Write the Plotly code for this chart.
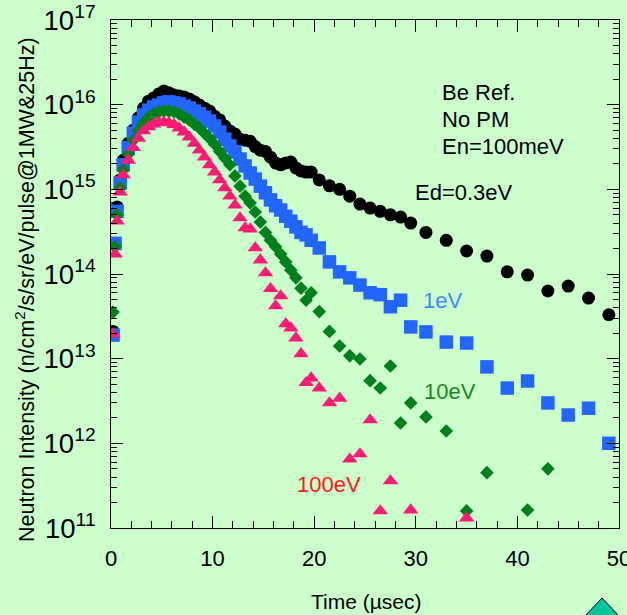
import plotly.graph_objects as go

# time (usec)
time_us = [0.2, 0.4, 0.6, 0.9, 1.2, 1.7, 2.2, 2.7, 3.2, 3.7, 4.2, 4.7, 5.2, 5.7, 6.2, 6.7,
           7.2, 7.7, 8.2, 8.7, 9.2, 9.7, 10.2, 10.7, 11.2, 11.7, 12.2, 12.7, 13.2, 13.7,
           14.2, 14.7, 15.2, 15.7, 16.2, 16.7, 17.2, 17.7, 18.2, 18.7, 19.2, 19.7,
           20.5, 21.5, 22.5, 23.5, 24.5, 25.5, 26.5, 27.5, 28.5, 29.5,
           31, 33, 35, 37, 39, 41, 43, 45, 47, 49]

ed_03eV = [2.1e13, 2.3e14, 6.2e14, 1.29e15, 2.2e15, 3.5e15, 5.0e15, 7.0e15, 9.1e15, 1.1e16,
           1.2e16, 1.34e16, 1.45e16, 1.38e16, 1.3e16, 1.27e16, 1.23e16, 1.17e16, 1.08e16, 9.9e15,
           9.1e15, 8.4e15, 7.3e15, 6.6e15, 5.6e15, 4.9e15, 4.5e15, 3.9e15, 3.8e15, 3.7e15,
           3.2e15, 2.9e15, 2.8e15, 2.4e15, 2.05e15, 1.95e15, 2.05e15, 2.1e15, 1.79e15, 1.65e15,
           1.6e15, 1.6e15,
           1.29e15, 1.1e15, 1.0e15, 8.3e14, 6.7e14, 6.0e14, 5.5e14, 5.0e14, 4.7e14, 4.0e14,
           3.1e14, 2.5e14, 1.87e14, 1.63e14, 1.06e14, 9.7e13, 6.3e13, 7.2e13, 5.2e13, 3.3e13]

ed_1eV = [1.9e13, 2.3e14, 5.5e14, 1.19e15, 1.95e15, 3.1e15, 4.6e15, 6.2e15, 7.55e15, 8.6e15,
          9.4e15, 9.9e15, 1.05e16, 1.08e16, 1.05e16, 1.02e16, 9.6e15, 9.1e15, 8.4e15, 7.8e15,
          7.1e15, 6.4e15, 5.6e15, 4.75e15, 3.9e15, 3.25e15, 2.76e15, 2.28e15, 1.89e15, 1.56e15,
          1.32e15, 1.09e15, 9.1e14, 7.5e14, 6.4e14, 5.7e14, 4.8e14, 4.2e14, 3.6e14, 3.1e14,
          2.9e14, 2.5e14,
          2.03e14, 1.39e14, 1.06e14, 9.0e13, 7.4e13, 6.0e13, 5.7e13, 4.1e13, 4.9e13, 2.37e13,
          2.07e13, 1.57e13, 1.53e13, 8.0e12, 4.5e12, 5.45e12, 3.0e12, 2.16e12, 2.6e12, 1.0e12]

ed_10eV = [3.55e13, 2.1e14, 5.0e14, 1.04e15, 1.69e15, 2.6e15, 3.8e15, 5.0e15, 6.1e15, 7.1e15,
           7.8e15, 8.2e15, 8.4e15, 8.4e15, 8.2e15, 7.8e15, 7.1e15, 6.6e15, 5.9e15, 5.3e15,
           4.6e15, 4.0e15, 3.4e15, 2.8e15, 2.34e15, 1.95e15, 1.44e15, 1.09e15, 8.3e14, 6.9e14,
           5.4e14, 4.1e14, 3.1e14, 2.5e14, 2.1e14, 1.72e14, 1.39e14, 1.11e14, 9.0e13, 6.8e13,
           4.9e13, 6.0e13,
           3.6e13, 2.1e13, 1.41e13, 1.08e13, 9.9e12, 5.5e12, 4.5e12, 8.2e12, 1.74e12, 3.0e12,
           2.05e12, 1.4e12, 1.59e11, 4.5e11, None, 1.63e11, 5.0e11, None, None, None]

ed_100eV = [1.95e13, 1.72e14, 4.2e14, 9.3e14, 1.48e15, 2.2e15, 3.1e15, 4.0e15, 4.9e15, 5.45e15,
            5.9e15, 6.2e15, 6.2e15, 6.1e15, 5.8e15, 5.3e15, 4.75e15, 4.15e15, 3.5e15, 2.9e15,
            2.4e15, 1.95e15, 1.6e15, 1.29e15, 1.04e15, 8.3e14, 6.5e14, 4.6e14, 3.5e14, 3.4e14,
            2.03e14, 1.46e14, 1.03e14, 6.7e13, 4.2e13, 5.5e13, 2.57e13, 2.3e13, 1.75e13, 1.14e13,
            5.2e12, 5.9e12,
            4.5e12, 3.0e12, 3.4e12, 6.5e11, 7.5e11, 1.89e12, 1.59e11, 3.6e11, None, 1.63e11,
            None, None, 1.31e11, None, None, None, None, None, None, None]

x_ticks = [0, 10, 20, 30, 40, 50]

FONT = "Liberation Sans, Arial, Helvetica, sans-serif"
BG = "#CCFFCC"

series = [
    (ed_03eV, "Ed=0.3eV", "circle", 13, "#000000"),
    (ed_1eV, "1eV", "square", 13.5, "#2266FF"),
    (ed_10eV, "10eV", "diamond", 10.5, "#00801A"),
    (ed_100eV, "100eV", "triangle-up", 13.5, "#FF1A75"),
]

fig = go.Figure()
for vals, name, sym, size, col in series:
    fig.add_trace(go.Scatter(
        x=time_us, y=vals, mode="markers", name=name,
        marker=dict(symbol=sym, size=size, color=col, line=dict(width=0)),
        showlegend=False,
    ))

fig.update_layout(
    width=627, height=615,
    margin=dict(l=111, r=8, t=20, b=87, autoexpand=False),
    paper_bgcolor=BG, plot_bgcolor=BG,
    font=dict(family=FONT, size=22, color="black"),
)

fig.update_xaxes(
    range=[0, 50], tickvals=x_ticks, ticktext=[str(v) for v in x_ticks],
    ticks="inside", ticklen=12, tickcolor="black", tickwidth=1,
    minor=dict(dtick=2, ticks="inside", ticklen=7, tickcolor="black", tickwidth=1),
    showline=True, linecolor="black", linewidth=1, mirror="allticks",
    showgrid=False, zeroline=False, ticklabelstandoff=11,
    ticklabeloverflow="allow", automargin=False,
    tickfont=dict(size=22),
)
fig.update_yaxes(
    type="log", range=[11, 17], dtick=1, exponentformat="power",
    ticks="inside", ticklen=12, tickcolor="black", tickwidth=1,
    minor=dict(dtick="D1", ticks="inside", ticklen=6, tickcolor="black", tickwidth=1),
    showline=True, linecolor="black", linewidth=1, mirror="allticks",
    showgrid=False, zeroline=False, ticklabelstandoff=10,
    ticklabeloverflow="allow", automargin=False,
    tickfont=dict(size=22),
)

def px_to_paper(px, py):
    return (px - 111) / 508.0, (528 - py) / 508.0

annots = [
    ("Neutron Intensity (n/cm<sup>2</sup>/s/sr/eV/pulse@1MW&amp;25Hz)", 25, 290, "center", -90, "black", 21.5),
    ("Time (µsec)", 366, 601, "center", 0, "black", 21),
    ("Be Ref.", 440, 93, "left", 0, "black", 22),
    ("No PM", 440, 120, "left", 0, "black", 22),
    ("En=100meV", 440, 146, "left", 0, "black", 22),
    ("Ed=0.3eV", 413, 193, "left", 0, "black", 22),
    ("1eV", 421, 300, "left", 0, "#3D8BFF", 22),
    ("10eV", 422, 391, "left", 0, "#1A8A1A", 22),
    ("100eV", 295, 484, "left", 0, "#FF1A1A", 22),
]
for text, px, py, anchor, ang, col, fs in annots:
    xp, yp = px_to_paper(px, py)
    fig.add_annotation(
        text=text, x=xp, y=yp, xref="paper", yref="paper",
        xanchor=anchor, yanchor="middle", textangle=ang, showarrow=False,
        font=dict(family=FONT, size=fs, color=col),
    )

# decorative teal diamond at bottom-right corner
cx, cy = px_to_paper(602, 616)
hw, hh = 17 / 508.0, 18 / 508.0
fig.add_shape(
    type="path", xref="paper", yref="paper",
    path=f"M {cx - hw} {cy} L {cx} {cy + hh} L {cx + hw} {cy} L {cx} {cy - hh} Z",
    fillcolor="#00C89A", line=dict(color="black", width=1),
)

fig.write_html("out.html")
